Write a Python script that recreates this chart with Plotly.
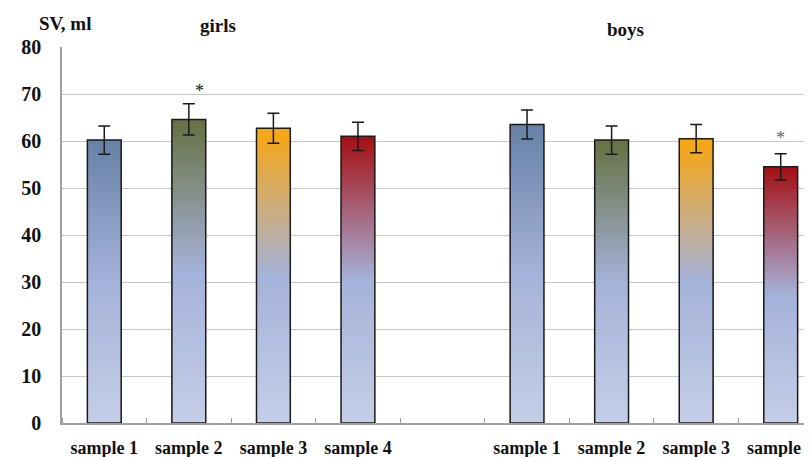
import plotly.graph_objects as go

# ---- data ----
groups = ["girls", "girls", "girls", "girls", "boys", "boys", "boys", "boys"]
labels = ["sample 1", "sample 2", "sample 3", "sample 4",
          "sample 1", "sample 2", "sample 3", "sample 4"]
positions = [0, 1, 2, 3, 5, 6, 7, 8]
sv_values = [60.2, 64.6, 62.7, 61.0, 63.5, 60.2, 60.5, 54.5]
sv_errors = [3.0, 3.3, 3.2, 3.0, 3.1, 3.0, 3.0, 2.8]
top_colors = ["#6781A6", "#667042", "#F9A60F", "#A50E12",
              "#6781A6", "#667042", "#F9A60F", "#A50E12"]
mid_color = "#A5B2D9"
bottom_color = "#C4CEE8"
star_pos = [(1.13, 70.6, "#111111"), (8, 60.6, "#666666")]
y_ticks = [0, 10, 20, 30, 40, 50, 60, 70, 80]


def hex2rgb(h):
    h = h.lstrip("#")
    return tuple(int(h[i:i + 2], 16) for i in (0, 2, 4))


def mix(c1, c2, t):
    a, b = hex2rgb(c1), hex2rgb(c2)
    return "rgb(%d,%d,%d)" % tuple(round(a[i] + (b[i] - a[i]) * t) for i in range(3))


def grad(top, f):
    if f >= 0.5:
        return mix(mid_color, top, (f - 0.5) / 0.5)
    return mix(bottom_color, mid_color, f / 0.5)


fig = go.Figure()
N = 70
bar_w = 0.4
for k in range(N):
    f = 1 - k / N
    fig.add_trace(go.Bar(
        x=positions,
        y=[v * f for v in sv_values],
        width=bar_w,
        marker=dict(color=[grad(c, f - 0.5 / N) for c in top_colors], line=dict(width=0)),
        showlegend=False, hoverinfo="skip",
    ))

fig.add_trace(go.Bar(
    x=positions, y=sv_values, width=bar_w,
    marker=dict(color="rgba(0,0,0,0)", line=dict(color="#1a1a1a", width=1.5)),
    error_y=dict(type="data", array=sv_errors, visible=True,
                 color="#1a1a1a", thickness=1.5, width=6),
    showlegend=False,
))

for x, y, c in star_pos:
    fig.add_annotation(x=x, y=y, text="*", showarrow=False,
                       xanchor="center", yanchor="middle",
                       font=dict(family="Liberation Serif", size=18, color=c))

fig.add_annotation(x=-0.46, xref="x", yref="paper", y=1.0, yshift=24,
                   xanchor="center", yanchor="middle",
                   text="<b>SV, ml</b>", showarrow=False,
                   font=dict(family="Liberation Serif", size=19, color="#111"))
fig.add_annotation(x=1.345, xref="x", yref="paper", y=1.0, yshift=22,
                   xanchor="center", yanchor="middle",
                   text="<b>girls</b>", showarrow=False,
                   font=dict(family="Liberation Serif", size=19, color="#111"))
fig.add_annotation(x=6.17, xref="x", yref="paper", y=1.0, yshift=18,
                   xanchor="center", yanchor="middle",
                   text="<b>boys</b>", showarrow=False,
                   font=dict(family="Liberation Serif", size=19, color="#111"))

fig.update_layout(
    width=812, height=457,
    margin=dict(l=54, r=8, t=39, b=42),
    plot_bgcolor="white", paper_bgcolor="white",
    barmode="overlay",
    font=dict(family="Liberation Serif", color="#111"),
)
fig.update_xaxes(
    range=[-0.5, 8.37], automargin=False,
    tickvals=positions, ticktext=["<b>%s</b>" % t for t in labels],
    tickfont=dict(size=18, family="Liberation Serif", color="#111"),
    ticks="", showgrid=False, zeroline=False,
    showline=True, linecolor="#a0a0a0", linewidth=1.5,
    ticklabelstandoff=8,
    minor=dict(tickmode="linear", tick0=-0.5, dtick=1, ticks="inside",
               ticklen=5, tickcolor="#a0a0a0", tickwidth=1, showgrid=False),
)
fig.update_yaxes(
    range=[0, 80], automargin=False,
    tickvals=y_ticks, ticktext=["<b>%d</b>" % t for t in y_ticks],
    tickfont=dict(size=20, family="Liberation Serif", color="#111"),
    showgrid=True, gridcolor="#c8c8c8", gridwidth=1.2,
    zeroline=False, showline=True, linecolor="#a0a0a0", linewidth=1.5,
    ticks="", ticklabelstandoff=15,
)

fig.write_html("out.html")
